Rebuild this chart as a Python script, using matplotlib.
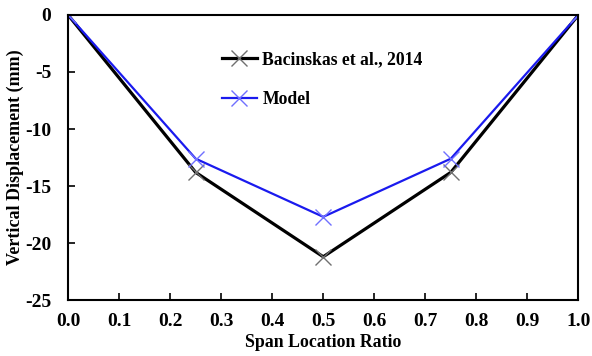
import matplotlib.pyplot as plt

span_ratio = [0.0, 0.25, 0.5, 0.75, 1.0]
bacinskas = [0.0, -13.8, -21.2, -13.8, 0.0]
model = [0.0, -12.6, -17.7, -12.6, 0.0]

plt.rcParams['font.family'] = ['Liberation Serif', 'DejaVu Serif']
plt.rcParams['font.weight'] = 'bold'
plt.rcParams['axes.unicode_minus'] = False

fig = plt.figure(figsize=(5.92, 3.56), dpi=100)
ax = fig.add_axes([0.115, 0.157, 0.862, 0.801])

ax.plot(span_ratio, bacinskas, color='black', lw=2.3, marker='x', ms=11,
        mec='#707070', mew=1.0, label='Bacinskas et al., 2014')
ax.plot(span_ratio, model, color='#1a1aee', lw=1.6, marker='x', ms=11,
        mec='#7070ff', mew=1.0, label='Model')

ax.set_xlim(0, 1.0)
ax.set_ylim(-25, 0)
ax.set_xticks([i / 10 for i in range(11)])
ax.set_yticks([0, -5, -10, -15, -20, -25])
ax.set_xticklabels([f"{i / 10:.1f}" for i in range(11)])
ax.tick_params(direction='in', length=5, width=1.2, labelsize=14)
ax.tick_params(axis='x', pad=9)
ax.tick_params(axis='y', pad=12)
for s in ax.spines.values():
    s.set_linewidth(1.5)

ax.set_xlabel('Span Location Ratio', fontsize=12.8, fontweight='bold', labelpad=3)
ax.set_ylabel('Vertical Displacement (mm)', fontsize=13, fontweight='bold', labelpad=1)

ax.legend(loc='upper left', bbox_to_anchor=(0.27, 0.93), frameon=False,
          fontsize=12.7, handlelength=2.0, labelspacing=1.3, handletextpad=0.3)

fig.savefig('out.png', dpi=100)
